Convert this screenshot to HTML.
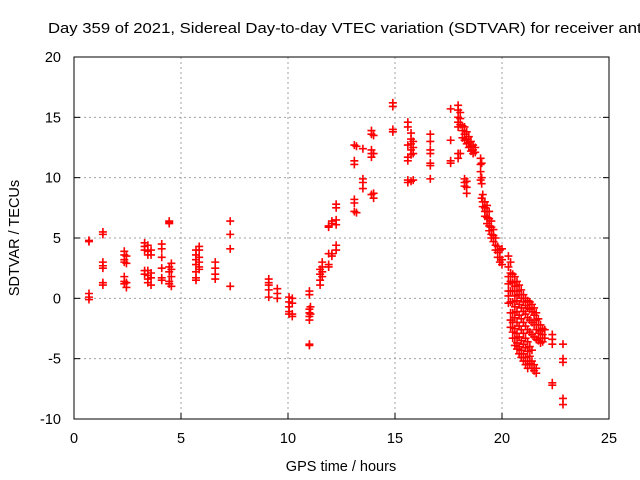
<!DOCTYPE html>
<html><head><meta charset="utf-8"><style>
html,body{margin:0;padding:0;background:#fff;}
svg{display:block;font-family:"Liberation Sans",Arial,sans-serif;}
</style></head><body>
<svg id="chart" width="640" height="480" viewBox="0 0 640 480" xmlns="http://www.w3.org/2000/svg">
<rect x="0" y="0" width="640" height="480" fill="#fff"/>
<text x="48" y="33" font-size="15" fill="#000" textLength="602" lengthAdjust="spacingAndGlyphs">Day 359 of 2021, Sidereal Day-to-day VTEC variation (SDTVAR) for receiver antc</text>
<g id="grid"></g>
<g id="ticks"></g>
<g id="marks"></g>
<rect x="74" y="57" width="535" height="362" fill="none" stroke="#000" stroke-width="1"/>
<text x="341" y="471" font-size="14.5" text-anchor="middle">GPS time / hours</text>
<text transform="translate(19,238) rotate(-90)" font-size="14.5" text-anchor="middle">SDTVAR / TECUs</text>
</svg>
<script>
const xTicks = [0, 5, 10, 15, 20, 25];
const yTicks = [-10, -5, 0, 5, 10, 15, 20];
const groupHours = [
0.7, 1.35, 2.35, 2.45, 3.3, 3.45, 3.6, 4.1, 4.45, 4.55, 5.7, 5.85, 6.6, 7.3,
9.1, 9.5, 10.05, 10.2, 11.0, 11.05, 11.5, 11.6, 11.9, 12.05, 12.25, 13.1, 13.2, 13.5, 13.9, 14.0,
14.9, 15.6, 15.75, 15.85, 16.65, 17.6, 17.95, 18.05,
18.15, 18.25, 18.35, 18.45, 18.55, 18.65, 18.75, 18.25, 18.35, 19.0, 19.05, 19.1, 19.2, 19.3, 19.4, 19.5, 19.6, 19.7, 19.8, 19.9, 20.0,
20.3, 20.4, 20.5, 20.6, 20.7, 20.8, 20.9, 21.0, 21.1, 21.2, 21.3, 21.4, 21.5, 21.6, 21.7, 21.8, 21.9, 22.0,
22.35, 22.85
];
const groupValues = [
[4.8, 4.7, 0.4, 0.1, -0.1],
[5.5, 5.3, 3.0, 2.7, 2.5, 1.3, 1.1],
[3.9, 3.6, 3.2, 3.0, 1.8, 1.4, 1.2],
[3.5, 2.9, 1.3, 0.9],
[4.6, 4.3, 4.0, 2.3, 2.0],
[4.4, 3.9, 3.6, 2.3, 1.9, 1.6, 1.3],
[4.0, 3.6, 2.1, 1.7, 1.1],
[4.5, 4.1, 3.4, 2.5, 1.7, 1.5],
[6.4, 6.3, 6.2, 2.6, 2.2, 1.4, 1.2],
[2.9, 2.4, 1.8, 1.0],
[4.0, 3.6, 3.2, 2.8, 2.2, 1.7, 1.5],
[4.3, 4.0, 3.4, 3.0, 2.6, 2.4],
[3.0, 2.5, 2.0, 1.6],
[6.4, 5.3, 4.1, 1.0],
[1.6, 1.3, 1.1, 0.7, 0.1],
[0.8, 0.4, 0.0],
[0.1, -0.3, -0.7, -1.1, -1.3],
[0.0, -0.4, -1.3, -1.5],
[0.6, 0.3, -0.9, -1.2, -1.5, -1.8, -3.8, -3.9],
[-0.7, -1.3],
[2.4, 2.0, 1.5, 1.1],
[3.0, 2.6, 2.2, 1.8],
[6.0, 5.9, 3.7, 2.8, 2.6],
[6.4, 6.2, 3.7, 3.5],
[7.8, 7.5, 6.5, 6.1, 4.4, 4.0],
[12.7, 11.4, 11.1, 8.2, 7.9, 7.2],
[12.6, 7.1],
[12.4, 9.9, 9.6, 9.1],
[13.9, 13.6, 12.3, 12.0, 11.7, 8.6],
[13.5, 12.0, 8.7, 8.3],
[16.2, 15.9, 14.0, 13.8],
[14.6, 14.2, 12.7, 11.7, 11.4, 9.8, 9.6],
[13.7, 13.2, 12.8, 12.3, 11.9, 9.7],
[13.0, 12.5, 12.0, 9.8],
[13.6, 13.0, 12.3, 12.0, 11.2, 11.0, 9.9],
[15.7, 13.1, 11.4, 11.2],
[16.0, 15.6, 15.0, 14.6, 14.2, 12.0, 11.6],
[15.4, 14.9, 14.4, 12.0],
[14.3, 13.9, 13.3],
[14.2, 13.6, 13.1],
[13.8, 13.2, 12.8],
[13.4, 12.9, 12.5],
[13.0, 12.6, 12.2],
[12.7, 12.3, 12.0],
[12.5, 12.1],
[9.9, 9.6, 9.3],
[9.7, 9.2, 8.7],
[11.6, 11.1, 10.5, 9.8],
[11.2, 10.0, 9.5, 8.3],
[8.6, 8.0, 7.6],
[8.0, 7.5, 7.2, 6.8],
[7.7, 7.2, 6.7, 6.2],
[7.2, 6.6, 6.0, 5.6],
[6.4, 5.9, 5.3, 5.0],
[5.7, 5.2, 4.7],
[5.0, 4.4, 4.0],
[4.3, 3.8, 3.4],
[4.0, 3.4, 3.0],
[4.1, 3.2, 2.8],
[3.5, 2.6, 1.8, 1.2, 0.6, 0.2, -0.4],
[3.0, 2.1, 1.4, 0.6, -0.3, -1.2, -1.8, -2.4],
[2.0, 1.3, 0.6, -0.3, -1.2, -2.0, -2.8, -3.3],
[1.8, 1.0, 0.2, -0.7, -1.6, -2.5, -3.3, -3.9],
[1.4, 0.6, -0.2, -1.1, -2.0, -2.9, -3.7, -4.2],
[1.1, 0.3, -0.5, -1.4, -2.3, -3.2, -4.0, -4.6],
[0.7, 0.0, -0.8, -1.7, -2.6, -3.5, -4.3, -4.9],
[0.3, -0.3, -1.1, -2.0, -2.9, -3.8, -4.6, -5.2],
[0.0, -0.6, -1.3, -2.3, -3.3, -4.1, -4.9, -5.5],
[-0.2, -0.8, -1.6, -2.6, -3.6, -4.4, -5.2, -5.8],
[-0.3, -0.9, -1.8, -2.8, -4.0, -4.8, -5.4],
[-0.5, -1.1, -2.0, -3.0, -4.3, -5.2, -5.8],
[-0.8, -1.4, -2.2, -3.2, -5.5, -6.0],
[-1.2, -1.8, -2.6, -3.4, -5.8, -6.2],
[-1.7, -2.2, -2.9, -3.5],
[-2.2, -2.7, -3.3, -3.7],
[-2.5, -3.0, -3.6],
[-2.6, -3.3],
[-3.0, -3.4, -3.8, -7.0, -7.2],
[-3.8, -5.0, -5.3, -8.3, -8.8]
];
const xMin = 0, xMax = 25, yMin = -10, yMax = 20;
const L = 74, R = 609, T = 57, B = 419;
function xs(v){ return L + (v - xMin) / (xMax - xMin) * (R - L); }
function ys(v){ return B - (v - yMin) / (yMax - yMin) * (B - T); }
const NS = 'http://www.w3.org/2000/svg';
const grid = document.getElementById('grid');
const ticks = document.getElementById('ticks');
const marks = document.getElementById('marks');
function mk(tag, attrs){ const e = document.createElementNS(NS, tag); for (const k in attrs) e.setAttribute(k, attrs[k]); return e; }
xTicks.forEach(t => {
  const x = xs(t);
  if (t > xMin && t < xMax) {
    const g = mk('line', {x1:x, y1:T, x2:x, y2:B, stroke:'#a0a0a0', 'stroke-width':1, 'stroke-dasharray':'2,3'});
    
    
    grid.appendChild(g);
  }
  const tk = mk('line', {x1:x, y1:B, x2:x, y2:B-6, stroke:'#000'});
  
  
  ticks.appendChild(tk);
  const lb = mk('text', {x:x, y:B+24, 'font-size':14.5, 'text-anchor':'middle'});
  lb.textContent = t;
  
  
  ticks.appendChild(lb);
});
yTicks.forEach(t => {
  const y = ys(t);
  if (t > yMin && t < yMax) {
    const g = mk('line', {x1:L, y1:y, x2:R, y2:y, stroke:'#a0a0a0', 'stroke-width':1, 'stroke-dasharray':'2,3'});
    
    
    grid.appendChild(g);
  }
  const tk = mk('line', {x1:L, y1:y, x2:L+6, y2:y, stroke:'#000'});
  
  
  ticks.appendChild(tk);
  const tk2 = mk('line', {x1:R, y1:y, x2:R-6, y2:y, stroke:'#000'});
  
  
  ticks.appendChild(tk2);
  const lb = mk('text', {x:L-13, y:y+5, 'font-size':14.5, 'text-anchor':'end'});
  lb.textContent = t;
  
  
  ticks.appendChild(lb);
});
const n = Math.min(groupHours.length, groupValues.length);
for (let i = 0; i < n; i++) {
  groupValues[i].forEach(v => {
    const x = xs(groupHours[i]), y = ys(v);
    const p = mk('path', {d:'M'+(x-4)+' '+y+'H'+(x+4)+'M'+x+' '+(y-4)+'V'+(y+4), stroke:'#ff0000', 'stroke-width':1.6, fill:'none'});
    
    
    marks.appendChild(p);
  });
}
</script>
</body></html>
